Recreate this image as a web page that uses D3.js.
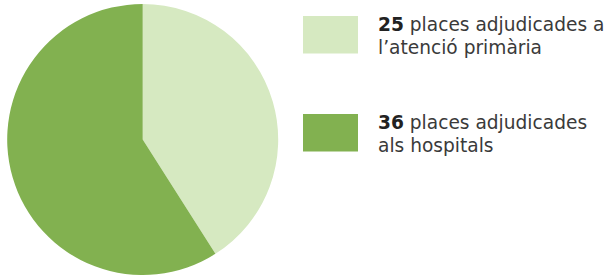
<!DOCTYPE html>
<html><head><meta charset="utf-8">
<script src="https://cdn.jsdelivr.net/npm/d3@7"></script>
<style>body{margin:0;background:#fff}svg{display:block}</style>
</head><body>
<script>
const categories = ["l’atenció primària", "als hospitals"];
const values = [25, 36];
const boldLabels = ["25", "36"];
const line1 = [" places adjudicades a", " places adjudicades"];
const line2 = ["l’atenció primària", "als hospitals"];
const colors = ["#d6e9c1", "#82b150"];

const W = 608, H = 275;
const svg = d3.select("body").append("svg").attr("width", W).attr("height", H);

const cx = 142.7, cy = 139.5, R = 135.5;
const pie = d3.pie().sort(null).value(d => d)(values);
const arc = d3.arc().innerRadius(0).outerRadius(R);
const color = d3.scaleOrdinal().domain(d3.range(values.length)).range(colors);

svg.append("g").attr("transform", `translate(${cx},${cy})`)
  .selectAll("path").data(pie).join("path")
  .attr("d", arc).attr("fill", (d, i) => color(i));

const font = "'DejaVu Sans', sans-serif";
const fs = 18.6;
const legY = [16, 114];
const lg = svg.append("g");
categories.forEach((c, i) => {
  lg.append("rect").attr("x", 303).attr("y", legY[i]).attr("width", 55).attr("height", 37.5)
    .attr("fill", color(i));
  const t = lg.append("text").attr("x", 378).attr("y", legY[i] + 15)
    .attr("font-family", font).attr("font-size", fs).attr("fill", "#3a3a3a");
  t.append("tspan").attr("font-weight", "bold").attr("fill", "#222").text(boldLabels[i]);
  t.append("tspan").text(line1[i]);
  lg.append("text").attr("x", 378).attr("y", legY[i] + 38)
    .attr("font-family", font).attr("font-size", fs).attr("fill", "#3a3a3a")
    .text(line2[i]);
});
</script>
</body></html>
